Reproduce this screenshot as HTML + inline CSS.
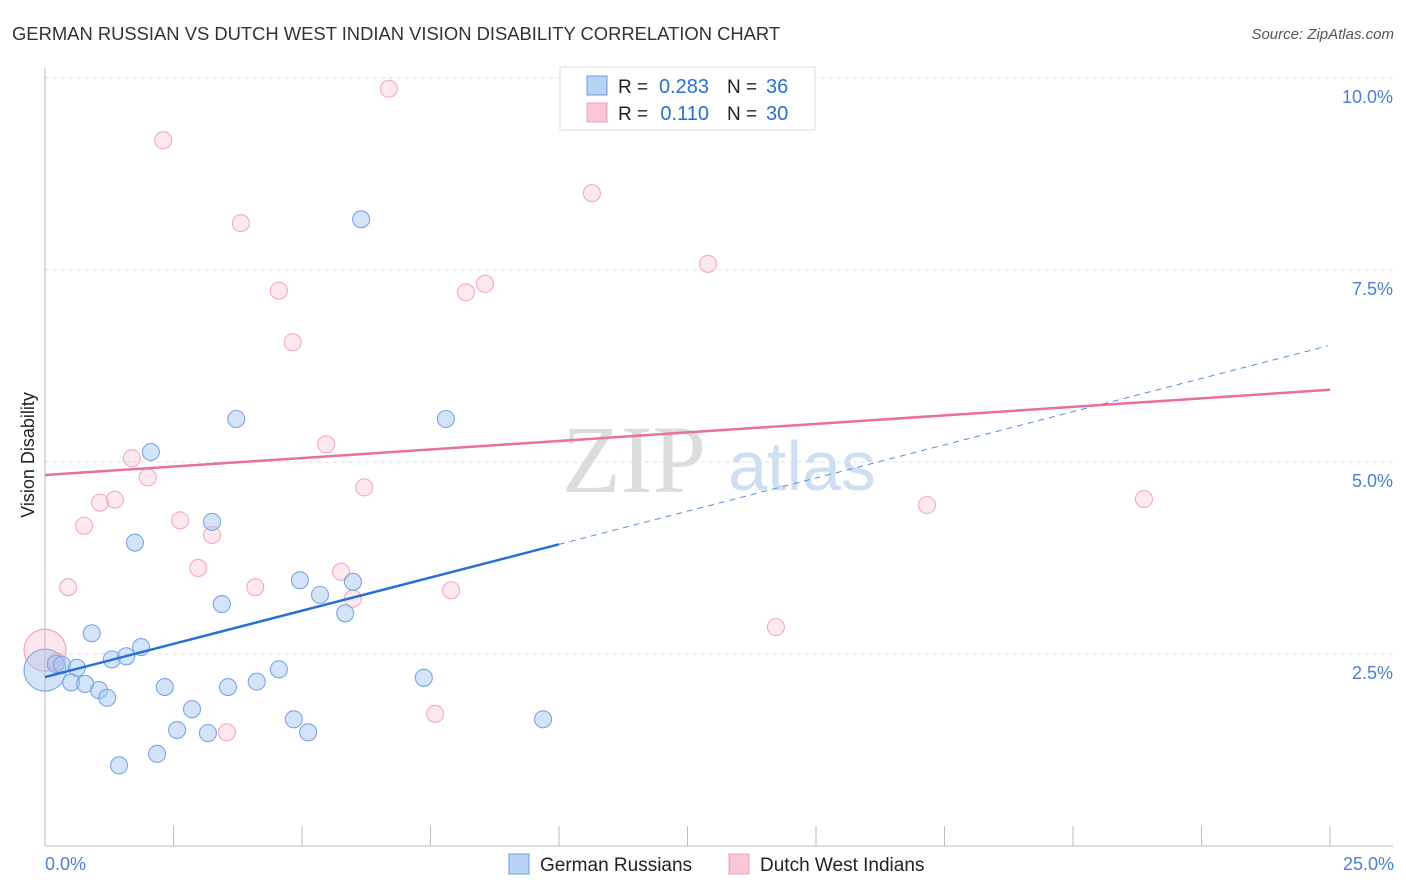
<!DOCTYPE html>
<html><head><meta charset="utf-8"><style>
body{margin:0;background:#fff;font-family:"Liberation Sans",sans-serif}
svg{display:block}
</style></head><body>
<svg id="chart" width="1406" height="892" xmlns="http://www.w3.org/2000/svg">
<text x="12" y="40" font-size="18.4" fill="#333">GERMAN RUSSIAN VS DUTCH WEST INDIAN VISION DISABILITY CORRELATION CHART</text>
<text x="1394" y="39" font-size="15" fill="#555" text-anchor="end" font-style="italic">Source: ZipAtlas.com</text>
<text x="634" y="492" font-size="96" fill="#dcdcdc" font-family="Liberation Serif" text-anchor="middle">ZIP</text>
<text x="802" y="490" font-size="70" fill="#cfdff2" text-anchor="middle">atlas</text>
<g id="grid"></g><g id="marks"></g>
<text transform="translate(34,455) rotate(-90)" font-size="18" fill="#222" text-anchor="middle">Vision Disability</text>
<text x="45" y="870" font-size="18" fill="#4a7fd4">0.0%</text>
<text x="1394" y="870" font-size="18" fill="#4a7fd4" text-anchor="end">25.0%</text>
<g>
<rect x="560" y="67" width="255" height="63" fill="#fff" stroke="#ddd"/>
<rect x="587" y="76" width="20" height="19" fill="#b8d3f5" stroke="#6a9be0"/>
<rect x="587" y="103" width="20" height="19" fill="#f9c6d5" stroke="#f0a0b8"/>
<text x="618" y="93" font-size="19" fill="#222">R =</text>
<text x="709" y="93" font-size="20" fill="#2a6fd6" text-anchor="end">0.283</text>
<text x="727" y="93" font-size="19" fill="#222">N =</text>
<text x="766" y="93" font-size="20" fill="#2a6fd6">36</text>
<text x="618" y="120" font-size="19" fill="#222">R =</text>
<text x="709" y="120" font-size="20" fill="#2a6fd6" text-anchor="end">0.110</text>
<text x="727" y="120" font-size="19" fill="#222">N =</text>
<text x="766" y="120" font-size="20" fill="#2a6fd6">30</text>
</g>
<g>
<rect x="509" y="854" width="20" height="20" fill="#b8d3f5" stroke="#6a9be0"/>
<text x="540" y="871" font-size="19" fill="#222">German Russians</text>
<rect x="729" y="854" width="20" height="20" fill="#f9c6d5" stroke="#f0a0b8"/>
<text x="760" y="871" font-size="19" fill="#222">Dutch West Indians</text>
</g>
</svg>
<script>
const yTicks=[2.5,5.0,7.5,10.0];
const yTickLabels=["2.5%","5.0%","7.5%","10.0%"];
const blueX=[0.21,0.33,0.62,0.51,0.78,0.91,1.05,1.21,1.30,1.58,1.87,1.44,1.75,2.06,2.18,2.33,2.57,2.86,3.17,3.25,3.44,3.56,3.72,4.12,4.55,4.84,4.96,5.12,5.35,5.84,5.99,6.15,7.37,7.80,9.69];
const blueY=[2.37,2.36,2.32,2.13,2.11,2.77,2.03,1.93,2.43,2.47,2.59,1.05,3.95,5.13,1.20,2.07,1.51,1.78,1.47,4.22,3.15,2.07,5.56,2.14,2.30,1.65,3.46,1.48,3.27,3.03,3.44,8.16,2.19,5.56,1.65];
const pinkX=[0.23,0.45,0.76,1.07,1.36,1.69,2.00,2.30,2.63,2.98,3.25,3.54,3.81,4.09,4.55,4.82,5.47,5.76,5.99,6.21,6.69,7.59,7.90,8.19,8.56,10.64,12.90,14.22,17.16,21.38];
const pinkY=[2.40,3.37,4.17,4.47,4.51,5.05,4.80,9.19,4.24,3.62,4.05,1.48,8.11,3.37,7.23,6.56,5.23,3.57,3.22,4.67,9.86,1.72,3.33,7.21,7.32,8.50,7.58,2.85,4.44,4.52];
const blueBig=[0,2.29], pinkBig=[0,2.55];
const blueTrend=[2.20,6.52], blueSolidEnd=10.0, pinkTrend=[4.83,5.94];
const X=v=>45+v*51.4, Y=v=>846-v*76.8;
const NS="http://www.w3.org/2000/svg";
function mk(tag,attrs,parent){const e=document.createElementNS(NS,tag);for(const k in attrs)e.setAttribute(k,attrs[k]);parent.appendChild(e);return e;}
const grid=document.getElementById('grid'), marks=document.getElementById('marks');
yTicks.forEach((t,i)=>{
 const l=mk('line',{x1:45,x2:1393,y1:Y(t),y2:Y(t),stroke:'#ddd','stroke-dasharray':'4,4'},grid);
 
 
 const tx=mk('text',{x:1393,y:Y(t)+25,'font-size':18,fill:'#4a7fd4','text-anchor':'end'},grid);
 tx.textContent=yTickLabels[i];
 
 
});
const ax=mk('line',{x1:45,x2:45,y1:68,y2:846,stroke:'#bbb'},grid);


const bx=mk('line',{x1:45,x2:1393,y1:846,y2:846,stroke:'#bbb'},grid);


for(let i=0;i<=10;i++){const t=mk('line',{x1:X(i*2.5),x2:X(i*2.5),y1:826,y2:846,stroke:'#bbb'},grid);
 
 }
function dot(x,y,r,fill,stroke,name){const c=mk('circle',{cx:X(x),cy:Y(y),r:r,fill:fill,stroke:stroke,'stroke-width':1.1},marks);
 
 }
dot(pinkBig[0],pinkBig[1],21,'rgba(248,180,200,0.35)','#f0a0b8','pink-big-point');
dot(blueBig[0],blueBig[1],21,'rgba(160,196,240,0.45)','#7aa5e4','blue-big-point');
pinkX.forEach((x,i)=>dot(x,pinkY[i],8.5,'rgba(248,190,208,0.35)','#f2aac0','dutch-west-indian-point'));
blueX.forEach((x,i)=>dot(x,blueY[i],8.5,'rgba(160,196,240,0.45)','#7aa5e4','german-russian-point'));
const bAt=v=>blueTrend[0]+(blueTrend[1]-blueTrend[0])*v/25;
const l1=mk('line',{x1:X(0),y1:Y(bAt(0)),x2:X(blueSolidEnd),y2:Y(bAt(blueSolidEnd)),stroke:'#2a6fd6','stroke-width':2.5},marks);


const l2=mk('line',{x1:X(blueSolidEnd),y1:Y(bAt(blueSolidEnd)),x2:X(24.96),y2:Y(bAt(24.96)),stroke:'#5a8fe0','stroke-width':1,'stroke-dasharray':'6,5'},marks);


const l3=mk('line',{x1:X(0),y1:Y(pinkTrend[0]),x2:X(25),y2:Y(pinkTrend[1]),stroke:'#e8709a','stroke-width':2.5},marks);


</script>
</body></html>
